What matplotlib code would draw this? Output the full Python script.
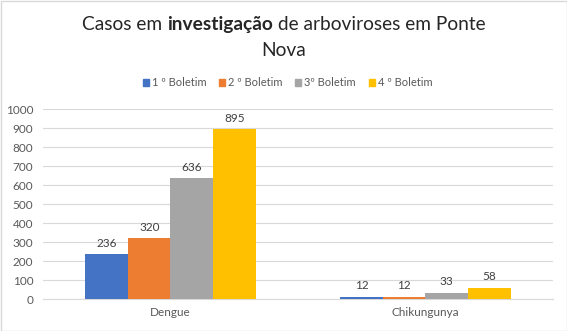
import matplotlib
matplotlib.use("Agg")
import matplotlib.pyplot as plt
import numpy as np
from matplotlib.patches import Rectangle, Patch

categories = ["Dengue", "Chikungunya"]
series_names = ["1 º Boletim", "2 º Boletim", "3º Boletim", "4 º Boletim"]
boletim1 = [236, 12]
boletim2 = [320, 12]
boletim3 = [636, 33]
boletim4 = [895, 58]
yticks = [0, 100, 200, 300, 400, 500, 600, 700, 800, 900, 1000]
colors = ["#4472C4", "#ED7D31", "#A5A5A5", "#FFC000"]

FONT = "Lato"
plt.rcParams["font.family"] = [FONT, "DejaVu Sans"]

W, H = 567, 331
fig = plt.figure(figsize=(W / 100, H / 100), dpi=100)
ax = fig.add_axes([43 / W, 1 - 299 / H, 510 / W, (299 - 109.3) / H])

x = np.arange(len(categories))
bw = 0.6667 / 4
all_series = [boletim1, boletim2, boletim3, boletim4]
for i, (vals, c, name) in enumerate(zip(all_series, colors, series_names)):
    bars = ax.bar(x + (i - 1.5) * bw, vals, bw, color=c, label=name, zorder=3)
    ax.bar_label(bars, padding=4, fontsize=8.5, color="#404040")

ax.set_xlim(-0.5, 1.5)
ax.set_ylim(0, 1000)
ax.set_yticks(yticks)
ax.set_xticks(x)
ax.set_xticklabels(categories)
ax.tick_params(axis="both", length=0, labelsize=8.5, labelcolor="#595959")
ax.tick_params(axis="y", pad=7)
ax.tick_params(axis="x", pad=6)
ax.grid(axis="y", color="#D9D9D9", lw=0.8, zorder=0)
for s in ["left", "right", "top"]:
    ax.spines[s].set_visible(False)
ax.spines["bottom"].set_color("#D9D9D9")
ax.spines["bottom"].set_linewidth(0.8)

# legend
handles = [Patch(color=c) for c in colors]
fig.legend(handles, series_names, loc="center", bbox_to_anchor=(0.5 + 4 / W, 1 - 83 / H),
           ncol=4, frameon=False, fontsize=8, handlelength=0.55, handleheight=0.55,
           handletextpad=0.25, columnspacing=1.15, labelcolor="#595959")

# title with bold word
renderer = fig.canvas.get_renderer()
tsize = 13.8
parts = [("Casos em ", "normal"), ("investigação", "bold"), (" de arboviroses em Ponte", "normal")]
texts = []
for s, wt in parts:
    t = fig.text(0, 1 - 30 / H, s, fontsize=tsize, fontweight=wt, color="#262626",
                 ha="left", va="baseline")
    texts.append(t)
widths = [t.get_window_extent(renderer).width for t in texts]
total = sum(widths)
xstart = (W / 2 - total / 2)
cur = xstart
for t, w in zip(texts, widths):
    t.set_x(cur / W)
    cur += w
fig.text(0.5, 1 - 56 / H, "Nova", fontsize=tsize, color="#262626",
         ha="center", va="baseline")

fig.patches.append(Rectangle((0.5 / W, 0.5 / H), 1 - 1 / W, 1 - 1 / H, transform=fig.transFigure,
                             fill=False, edgecolor="#D9D9D9", lw=1))

fig.savefig("out.png", dpi=100)
